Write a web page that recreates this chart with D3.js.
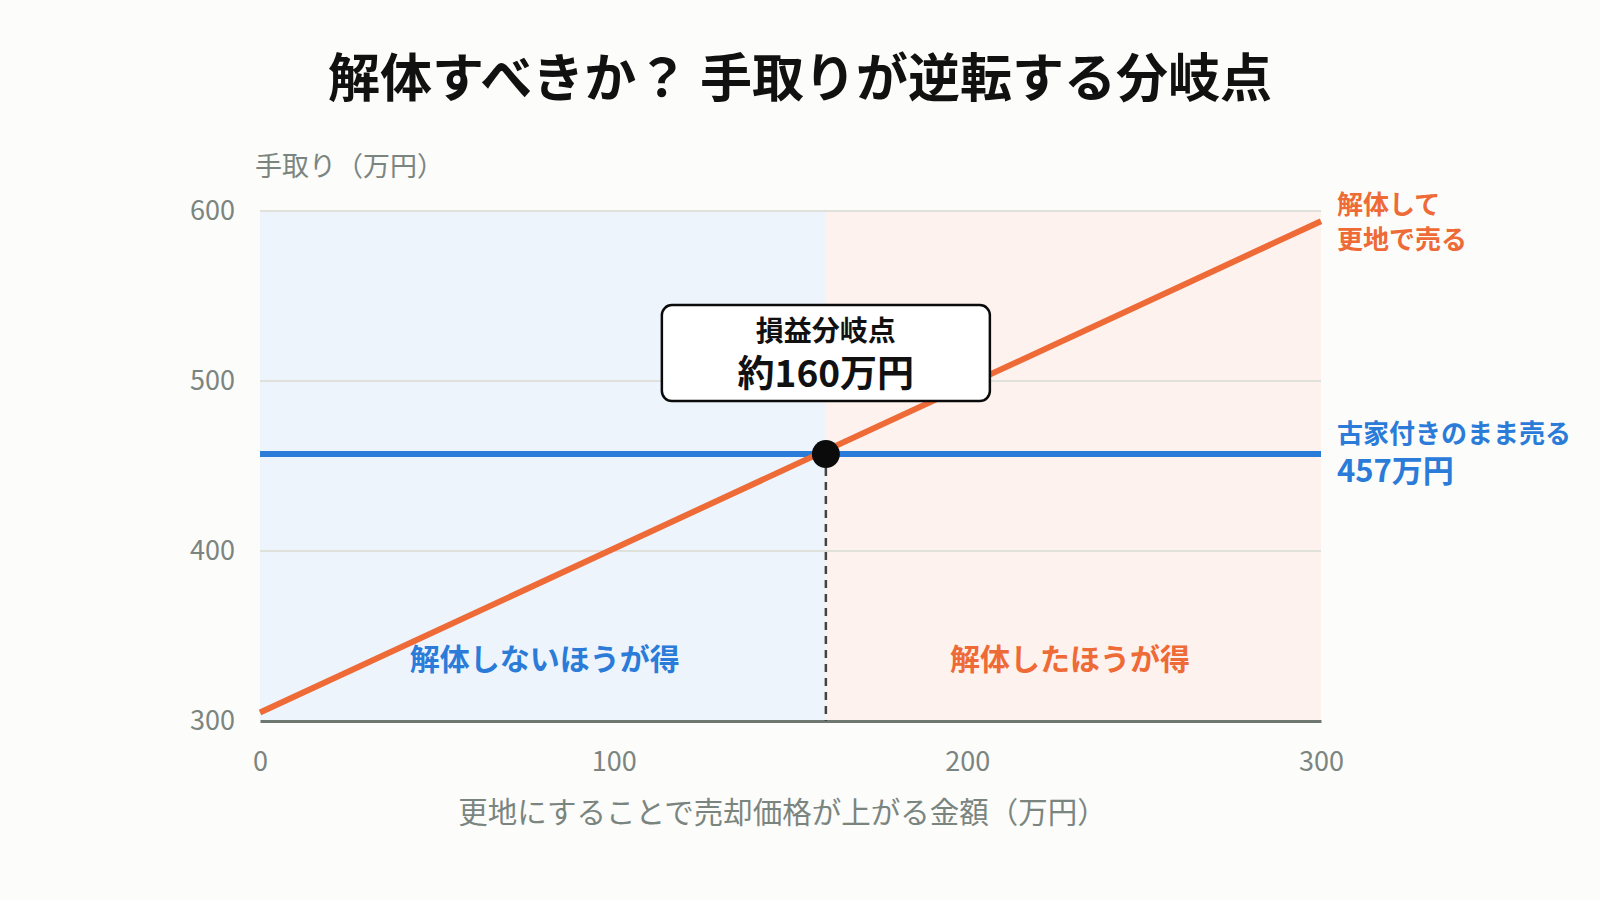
<!DOCTYPE html>
<html lang="ja">
<head>
<meta charset="utf-8">
<script src="https://cdn.jsdelivr.net/npm/d3@7"></script>
<style>
  html, body { margin: 0; padding: 0; background: #fcfcfa; }
  svg { display: block; font-family: "Noto Sans CJK JP", "Noto Sans", sans-serif; }
</style>
</head>
<body>
<div id="chart"></div>
<script>
// data
const xTicks = [0, 100, 200, 300];
const yTicks = [300, 400, 500, 600];
const gridValues = [400, 500, 600];
const keepPrice = 457;                    // 古家付きのまま売る
const demolishLine = [[0, 305], [300, 594]]; // 解体して更地で売る
const breakEven = [160, 457];
const regions = [
  {from: 0, to: 160, label: "解体しないほうが得", fill: "#edf4fc", color: "#2b7bd8"},
  {from: 160, to: 300, label: "解体したほうが得", fill: "#fdf2ed", color: "#ee6a36"}
];

const W = 1600, H = 900;
const margin = {top: 211, right: 279, bottom: 179, left: 260};
const blue = "#2b7bd8", orange = "#ee6a36";

const svg = d3.select("#chart").append("svg")
    .attr("width", W).attr("height", H);

svg.append("rect").attr("width", W).attr("height", H).attr("fill", "#fcfcfa");

const x = d3.scaleLinear().domain([0, 300]).range([margin.left, W - margin.right]);
const y = d3.scaleLinear().domain([300, 600]).range([H - margin.bottom, margin.top]);

// title
svg.append("text")
    .attr("x", 800).attr("y", 74)
    .attr("text-anchor", "middle").attr("dominant-baseline", "central")
    .attr("font-size", 52).attr("font-weight", 700).attr("fill", "#111")
    .text("解体すべきか？ 手取りが逆転する分岐点");

// shaded regions
svg.selectAll(".region").data(regions).join("rect")
    .attr("x", d => x(d.from))
    .attr("width", d => x(d.to) - x(d.from))
    .attr("y", y(600))
    .attr("height", y(300) - y(600))
    .attr("fill", d => d.fill);

// grid
svg.selectAll(".grid").data(gridValues).join("line")
    .attr("x1", x(0)).attr("x2", x(300))
    .attr("y1", d => y(d)).attr("y2", d => y(d))
    .attr("stroke", "#e1e1db").attr("stroke-width", 2);

// region labels
svg.selectAll(".rlabel").data(regions).join("text")
    .attr("x", d => d.from === 0 ? x(80.5) : x(229))
    .attr("y", y(337.5))
    .attr("text-anchor", "middle").attr("dominant-baseline", "central")
    .attr("font-size", 30).attr("font-weight", 700)
    .attr("fill", d => d.color)
    .text(d => d.label);

// axes
const xAxis = svg.append("g")
    .attr("transform", `translate(0,${y(300)})`)
    .call(d3.axisBottom(x).tickValues(xTicks).tickSize(0).tickPadding(0));
xAxis.select(".domain").attr("stroke", "#6e7870").attr("stroke-width", 3);
xAxis.selectAll("text")
    .attr("y", 38).attr("dy", null)
    .attr("dominant-baseline", "central")
    .attr("font-size", 27).attr("fill", "#7b8580")
    .attr("font-family", "'Noto Sans CJK JP', sans-serif");

const yAxis = svg.append("g")
    .attr("transform", `translate(${x(0)},0)`)
    .call(d3.axisLeft(y).tickValues(yTicks).tickSize(0).tickPadding(0));
yAxis.select(".domain").remove();
yAxis.selectAll("text")
    .attr("x", -25).attr("y", -3).attr("dy", null)
    .attr("dominant-baseline", "central")
    .attr("font-size", 27).attr("fill", "#7b8580")
    .attr("font-family", "'Noto Sans CJK JP', sans-serif");

// axis titles
svg.append("text")
    .attr("x", x(0) - 5).attr("y", 164)
    .attr("dominant-baseline", "central")
    .attr("font-size", 27).attr("fill", "#7b8580")
    .text("手取り（万円）");

svg.append("text")
    .attr("x", (x(0) + x(300)) / 2 - 8).attr("y", 810)
    .attr("text-anchor", "middle").attr("dominant-baseline", "central")
    .attr("font-size", 29.5).attr("fill", "#7b8580")
    .text("更地にすることで売却価格が上がる金額（万円）");

// break-even dashed line
svg.append("line")
    .attr("x1", x(breakEven[0])).attr("x2", x(breakEven[0]))
    .attr("y1", y(breakEven[1])).attr("y2", y(300))
    .attr("stroke", "#444").attr("stroke-width", 2.5)
    .attr("stroke-dasharray", "8 6");

// keep-as-is line
svg.append("line")
    .attr("x1", x(0)).attr("x2", x(300))
    .attr("y1", y(keepPrice)).attr("y2", y(keepPrice))
    .attr("stroke", blue).attr("stroke-width", 6);

// demolish line
const line = d3.line().x(d => x(d[0])).y(d => y(d[1]));
svg.append("path")
    .datum(demolishLine)
    .attr("d", line)
    .attr("fill", "none")
    .attr("stroke", orange).attr("stroke-width", 6);

// dot
svg.append("circle")
    .attr("cx", x(breakEven[0])).attr("cy", y(breakEven[1]))
    .attr("r", 14).attr("fill", "#0b0b0b");

// callout box
const bx = x(breakEven[0]), by = y(breakEven[1]);
svg.append("rect")
    .attr("x", bx - 164).attr("y", by - 149)
    .attr("width", 328).attr("height", 96)
    .attr("rx", 10)
    .attr("fill", "#fff").attr("stroke", "#0b0b0b").attr("stroke-width", 2.5);
svg.append("text")
    .attr("x", bx).attr("y", by - 125)
    .attr("text-anchor", "middle").attr("dominant-baseline", "central")
    .attr("font-size", 28).attr("font-weight", 700).attr("fill", "#111")
    .text("損益分岐点");
svg.append("text")
    .attr("x", bx).attr("y", by - 83)
    .attr("text-anchor", "middle").attr("dominant-baseline", "central")
    .attr("font-size", 37).attr("font-weight", 700).attr("fill", "#111")
    .text("約160万円");

// line end labels
const endY = y(demolishLine[1][1]);
const lx = x(300) + 16;
svg.append("text")
    .attr("x", lx).attr("y", endY - 19)
    .attr("dominant-baseline", "central")
    .attr("font-size", 26).attr("font-weight", 700).attr("fill", orange)
    .text("解体して");
svg.append("text")
    .attr("x", lx).attr("y", endY + 16)
    .attr("dominant-baseline", "central")
    .attr("font-size", 26).attr("font-weight", 700).attr("fill", orange)
    .text("更地で売る");

svg.append("text")
    .attr("x", lx).attr("y", y(keepPrice) - 23)
    .attr("dominant-baseline", "central")
    .attr("font-size", 26).attr("font-weight", 700).attr("fill", blue)
    .text("古家付きのまま売る");
svg.append("text")
    .attr("x", lx).attr("y", y(keepPrice) + 14)
    .attr("dominant-baseline", "central")
    .attr("font-size", 31).attr("font-weight", 700).attr("fill", blue)
    .text(keepPrice + "万円");
</script>
</body>
</html>
